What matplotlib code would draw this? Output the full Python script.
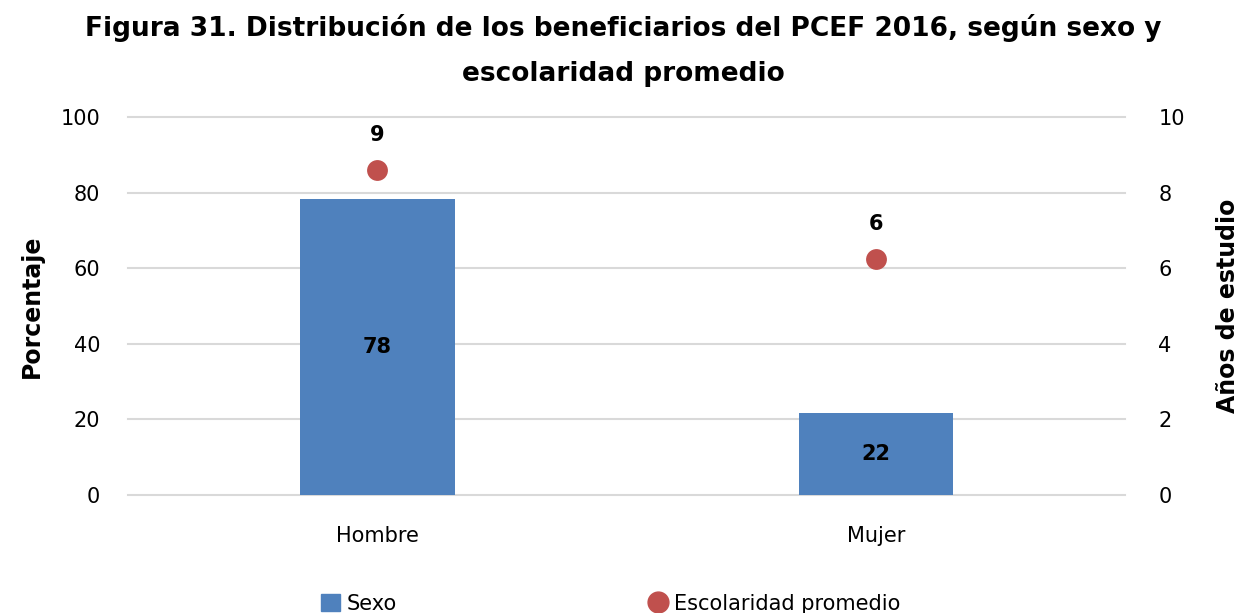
import matplotlib.pyplot as plt
import numpy as np
from matplotlib.lines import Line2D
from matplotlib.patches import Patch

plt.rcParams["font.family"] = ["DejaVu Sans"]

categories = ["Hombre", "Mujer"]
sexo_pct = [78.3, 21.6]
sexo_labels = ["78", "22"]
escolaridad = [8.61, 6.26]
escolaridad_labels = ["9", "6"]

bar_color = "#4F81BD"
dot_color = "#C0504D"
grid_color = "#D9D9D9"

fig = plt.figure(figsize=(12.46, 6.13), dpi=100)
ax = fig.add_axes([0.1027, 0.1925, 0.8003, 0.6161])
ax2 = ax.twinx()

x = np.arange(len(categories))
bars = ax.bar(x, sexo_pct, width=0.31, color=bar_color, zorder=2)
for rect, lab in zip(bars, sexo_labels):
    ax.text(rect.get_x() + rect.get_width() / 2, rect.get_height() / 2, lab,
            ha="center", va="center", fontsize=15, fontweight="bold", color="black", zorder=3)

ax2.scatter(x, escolaridad, s=225, color=dot_color, zorder=3, linewidths=0)
for xi, yi, lab in zip(x, escolaridad, escolaridad_labels):
    ax2.annotate(lab, (xi, yi), xytext=(0, 25), textcoords="offset points",
                 ha="center", va="center", fontsize=15, fontweight="bold")

ax.set_xlim(-0.5, 1.5)
ax.set_ylim(0, 100)
ax2.set_ylim(0, 10)
ax.set_yticks(np.arange(0, 101, 20))
ax2.set_yticks(np.arange(0, 11, 2))
ax.set_xticks(x)
ax.set_xticklabels(categories, fontsize=15)
ax.tick_params(axis="y", labelsize=15, length=0, pad=20)
ax.tick_params(axis="x", length=0, pad=22)
ax2.tick_params(axis="y", labelsize=15, length=0, pad=24)
ax.yaxis.grid(True, color=grid_color, linewidth=1.5, zorder=0)
for gl in ax.get_ygridlines():
    gl.set_clip_on(False)
ax.set_axisbelow(True)
for a in (ax, ax2):
    for s in a.spines.values():
        s.set_visible(False)
ax.set_zorder(ax2.get_zorder() - 1)
ax2.patch.set_visible(False)

ax.set_ylabel("Porcentaje", fontsize=17, fontweight="bold", labelpad=12)
ax2.set_ylabel("Años de estudio", fontsize=17, fontweight="bold", labelpad=22)

fig.text(0.5, 0.955, "Figura 31. Distribución de los beneficiarios del PCEF 2016, según sexo y",
         ha="center", va="center", fontsize=19, fontweight="bold")
fig.text(0.5, 0.88, "escolaridad promedio", ha="center", va="center", fontsize=19, fontweight="bold")

handles = [Patch(color=bar_color, label="Sexo"),
           Line2D([], [], marker="o", linestyle="none", markersize=15, color=dot_color,
                  label="Escolaridad promedio")]
fig.legend(handles=handles, loc="center", bbox_to_anchor=(0.49, 0.015), ncol=2, frameon=False,
           fontsize=15, handlelength=0.9, handleheight=0.9, handletextpad=0.3, columnspacing=12.1)

fig.savefig("out.png", dpi=100)
